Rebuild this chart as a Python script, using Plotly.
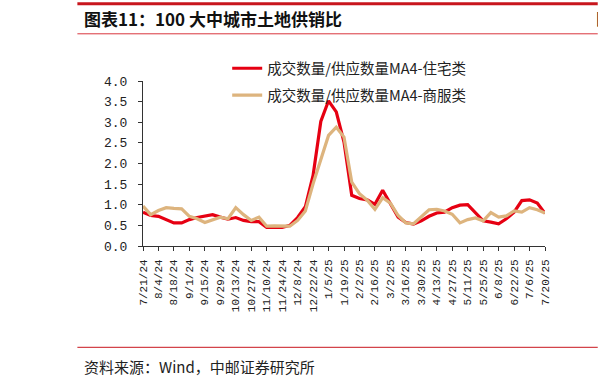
import plotly.graph_objects as go

dates = ["7/21/24","7/28/24","8/4/24","8/11/24","8/18/24","8/25/24","9/1/24","9/8/24","9/15/24","9/22/24",
         "9/29/24","10/6/24","10/13/24","10/20/24","10/27/24","11/3/24","11/10/24","11/17/24","11/24/24","12/1/24",
         "12/8/24","12/15/24","12/22/24","12/29/24","1/5/25","1/12/25","1/19/25","1/26/25","2/2/25","2/9/25",
         "2/16/25","2/23/25","3/2/25","3/9/25","3/16/25","3/23/25","3/30/25","4/6/25","4/13/25","4/20/25",
         "4/27/25","5/4/25","5/11/25","5/18/25","5/25/25","6/1/25","6/8/25","6/15/25","6/22/25","6/29/25",
         "7/6/25","7/13/25","7/20/25"]

residential = [0.82,0.74,0.72,0.64,0.56,0.56,0.64,0.69,0.72,0.76,
               0.70,0.65,0.69,0.62,0.59,0.59,0.45,0.45,0.45,0.50,
               0.69,0.95,1.71,3.02,3.52,3.25,2.52,1.23,1.15,1.12,
               1.01,1.35,1.03,0.70,0.57,0.53,0.61,0.72,0.80,0.82,
               0.93,0.99,1.00,0.80,0.61,0.58,0.54,0.66,0.82,1.10,
               1.12,1.04,0.79]

commercial = [0.97,0.76,0.86,0.93,0.91,0.90,0.72,0.66,0.57,0.64,
              0.70,0.66,0.93,0.76,0.62,0.70,0.48,0.49,0.49,0.48,
              0.62,0.85,1.51,2.08,2.68,2.88,2.64,1.55,1.27,1.11,
              0.89,1.17,1.04,0.74,0.56,0.54,0.70,0.88,0.89,0.85,
              0.77,0.56,0.64,0.68,0.61,0.81,0.70,0.73,0.85,0.82,
              0.93,0.88,0.80]

tick_labels = dates[::2]

series_names = ["成交数量/供应数量MA4-住宅类", "成交数量/供应数量MA4-商服类"]
series_colors = ["#E60012", "#DDB47E"]

W, H = 598, 387
L, R, T, B = 142.7, 545.2, 80.7, 245.7

fig = go.Figure()
for name, vals, col, grp in zip(series_names, [residential, commercial], series_colors, ["a", "b"]):
    fig.add_trace(go.Scatter(x=dates, y=vals, mode="lines", name=name, legendgroup=grp,
                             line=dict(color=col, width=3.2)))

fig.update_layout(
    width=W, height=H,
    margin=dict(l=L, r=W - R, t=T, b=H - B, pad=0),
    paper_bgcolor="white", plot_bgcolor="white",
    showlegend=True,
    legend=dict(x=(227 - L) / (R - L), y=(B - 52) / (B - T), xanchor="left", yanchor="top",
                font=dict(family="Noto Sans CJK SC", size=14.5, color="#222"),
                bgcolor="rgba(0,0,0,0)", tracegroupgap=5, traceorder="grouped"),
    xaxis=dict(type="category", categoryorder="array", categoryarray=dates,
               range=[0, len(dates) - 1], tickmode="array", tickvals=tick_labels, ticktext=tick_labels,
               tickangle=-90, ticks="outside", ticklen=4, tickcolor="#333", tickwidth=1,
               showline=True, linecolor="#333", linewidth=1, showgrid=False, zeroline=False,
               tickfont=dict(family="Liberation Mono", size=11, color="#222"), automargin=False,
               ticklabelstandoff=4),
    yaxis=dict(range=[0, 4], dtick=0.5, tickformat=".1f", ticks="outside", ticklen=4, tickcolor="#333",
               showline=True, linecolor="#333", linewidth=1, showgrid=False, zeroline=False,
               tickfont=dict(family="Liberation Mono", size=13, color="#222"), automargin=False,
               ticklabelstandoff=8),
)

# header / footer decorations
fig.add_shape(type="line", xref="paper", yref="paper", x0=(77 - L) / (R - L), x1=(W - L) / (R - L),
              y0=(B - 3.5) / (B - T), y1=(B - 3.5) / (B - T), line=dict(color="#C8161D", width=3))
fig.add_shape(type="line", xref="paper", yref="paper", x0=(77 - L) / (R - L), x1=(W - L) / (R - L),
              y0=(B - 33.5) / (B - T), y1=(B - 33.5) / (B - T), line=dict(color="#D9363E", width=1))
fig.add_shape(type="line", xref="paper", yref="paper", x0=(77 - L) / (R - L), x1=(W - L) / (R - L),
              y0=(B - 347) / (B - T), y1=(B - 347) / (B - T), line=dict(color="#C8161D", width=1))

fig.add_annotation(text="<b>图表11：100 大中城市土地供销比</b>", xref="paper", yref="paper",
                   x=(82 - L) / (R - L), y=(B - 18) / (B - T), xanchor="left", yanchor="middle",
                   showarrow=False, font=dict(family="Noto Sans CJK SC", size=17, color="#111"))
fig.add_annotation(text="图", xref="paper", yref="paper",
                   x=(594 - L) / (R - L), y=(B - 18) / (B - T), xanchor="left", yanchor="middle",
                   showarrow=False, font=dict(family="Noto Sans CJK SC", size=16, color="#111"))
fig.add_annotation(text="资料来源：Wind，中邮证券研究所", xref="paper", yref="paper",
                   x=(82 - L) / (R - L), y=(B - 366) / (B - T), xanchor="left", yanchor="middle",
                   showarrow=False, font=dict(family="Noto Sans CJK SC", size=15, color="#222"))

fig.write_html("out.html", config={"displayModeBar": False},
               post_script="document.body.style.margin='0';document.body.style.overflow='hidden';")
